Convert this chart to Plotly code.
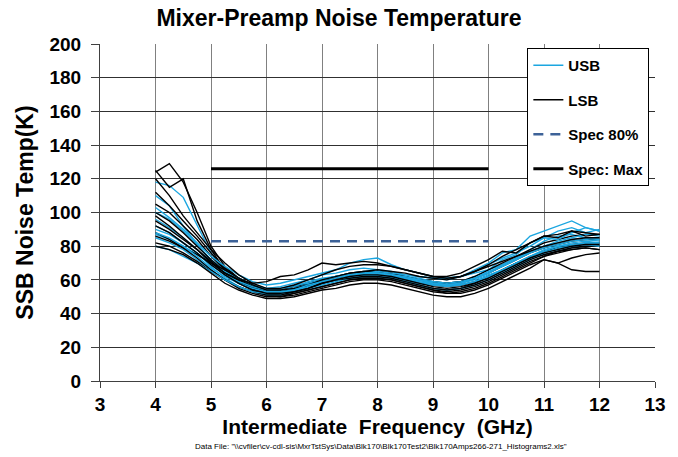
import plotly.graph_objects as go

freq_ghz = [4.00, 4.25, 4.50, 4.75, 5.00, 5.25, 5.50, 5.75, 6.00, 6.25, 6.50,
            6.75, 7.00, 7.25, 7.50, 7.75, 8.00, 8.25, 8.50, 8.75, 9.00, 9.25,
            9.50, 9.75, 10.00, 10.25, 10.50, 10.75, 11.00, 11.25, 11.50, 11.75, 12.00]

usb_1 = [118, 116, 109, 92, 76, 66, 59, 55, 53, 53, 55, 58, 60, 62, 64, 65, 65, 64, 62, 61, 59, 58, 59, 62, 66, 72, 75, 82, 85, 89, 91, 88, 90]
usb_2 = [110, 104, 92, 81, 71, 64, 58, 55, 53, 54, 55, 58, 60, 62, 63, 64, 64, 63, 61, 59, 58, 58, 59, 61, 64, 69, 73, 78, 83, 86, 87, 85, 84]
usb_3 = [100, 96, 89, 81, 72, 66, 61, 57, 55, 56, 58, 60, 63, 64, 66, 67, 66, 65, 63, 62, 61, 61, 62, 64, 66, 69, 73, 77, 80, 82, 84, 85, 84]
usb_4 = [96, 91, 85, 78, 70, 63, 58, 55, 54, 55, 56, 59, 61, 62, 63, 64, 65, 64, 63, 62, 61, 60, 62, 65, 69, 73, 76, 80, 85, 84, 88, 91, 89]
usb_5 = [90, 87, 82, 76, 68, 61, 56, 53, 51, 52, 54, 56, 58, 60, 62, 63, 63, 62, 60, 58, 57, 56, 57, 59, 62, 66, 70, 74, 78, 80, 82, 83, 82]
usb_6 = [87, 84, 80, 75, 70, 65, 61, 57, 55, 55, 57, 58, 60, 62, 63, 63, 63, 62, 61, 60, 59, 58, 59, 61, 64, 68, 72, 77, 80, 83, 85, 87, 86]
usb_7 = [85, 82, 78, 72, 66, 60, 56, 53, 51, 51, 53, 55, 57, 59, 61, 62, 62, 61, 59, 57, 55, 54, 55, 57, 60, 64, 68, 72, 76, 78, 80, 82, 81]
usb_8 = [92, 88, 82, 76, 69, 63, 59, 56, 54, 54, 55, 57, 60, 62, 63, 64, 64, 63, 61, 60, 58, 57, 58, 60, 63, 66, 70, 74, 77, 80, 81, 82, 82]
usb_9 = [80, 78, 74, 70, 65, 60, 56, 53, 52, 52, 54, 56, 59, 61, 63, 64, 64, 63, 62, 60, 58, 57, 57, 59, 62, 65, 69, 73, 76, 79, 80, 81, 80]
usb_10 = [103, 97, 90, 82, 74, 68, 63, 59, 57, 58, 60, 62, 64, 66, 70, 72, 73, 69, 66, 64, 62, 61, 62, 66, 70, 76, 78, 86, 89, 92, 95, 91, 89]
usb_11 = [88, 85, 80, 74, 67, 62, 58, 55, 53, 53, 54, 57, 59, 60, 62, 63, 63, 62, 60, 59, 57, 57, 58, 61, 65, 68, 72, 76, 79, 81, 83, 84, 83]

lsb_1 = [124, 129, 118, 100, 80, 68, 61, 56, 53, 53, 55, 57, 60, 62, 63, 64, 64, 63, 61, 60, 58, 57, 58, 61, 64, 68, 72, 76, 79, 81, 83, 84, 84]
lsb_2 = [125, 115, 120, 95, 78, 66, 59, 55, 52, 52, 54, 57, 59, 61, 62, 63, 63, 62, 60, 58, 57, 56, 57, 59, 62, 66, 70, 74, 77, 79, 81, 82, 82]
lsb_3 = [112, 104, 95, 86, 76, 67, 61, 57, 54, 54, 56, 58, 60, 62, 64, 65, 65, 64, 62, 60, 59, 58, 59, 62, 66, 70, 74, 78, 82, 84, 86, 87, 87]
lsb_4 = [105, 100, 92, 84, 74, 66, 60, 56, 53, 53, 54, 56, 58, 60, 61, 62, 62, 61, 59, 57, 55, 54, 55, 58, 62, 66, 70, 73, 75, 77, 78, 79, 78]
lsb_5 = [100, 95, 88, 80, 72, 65, 59, 55, 52, 51, 52, 54, 56, 58, 60, 61, 61, 60, 58, 56, 54, 53, 54, 56, 59, 63, 67, 71, 74, 76, 78, 79, 78]
lsb_6 = [95, 90, 84, 78, 71, 64, 58, 54, 51, 50, 51, 53, 55, 57, 59, 60, 60, 59, 57, 55, 53, 52, 53, 55, 58, 62, 66, 70, 74, 77, 79, 80, 80]
lsb_7 = [88, 84, 79, 73, 66, 60, 55, 52, 50, 50, 52, 54, 56, 58, 60, 61, 61, 60, 58, 56, 54, 52, 52, 54, 57, 61, 65, 69, 72, 70, 73, 75, 76]
lsb_8 = [82, 80, 76, 71, 65, 60, 56, 53, 51, 51, 53, 55, 58, 60, 61, 62, 62, 61, 59, 57, 55, 54, 55, 57, 60, 64, 68, 72, 75, 77, 79, 80, 80]
lsb_9 = [80, 78, 75, 70, 64, 58, 54, 51, 49, 49, 50, 52, 54, 55, 57, 58, 58, 57, 55, 53, 51, 50, 50, 52, 55, 59, 63, 67, 72, 70, 66, 65, 65]
lsb_10 = [86, 83, 79, 75, 70, 66, 61, 57, 54, 54, 55, 57, 60, 62, 64, 65, 66, 65, 64, 62, 61, 60, 62, 65, 69, 74, 78, 82, 86, 87, 89, 88, 87]
lsb_11 = [120, 110, 98, 88, 78, 70, 63, 58, 55, 55, 57, 60, 63, 66, 68, 69, 69, 68, 66, 64, 62, 61, 62, 65, 68, 71, 74, 77, 80, 82, 84, 85, 85]
lsb_12 = [92, 88, 82, 76, 69, 63, 58, 54, 52, 52, 53, 55, 58, 60, 62, 63, 63, 62, 60, 58, 56, 55, 56, 58, 61, 65, 69, 73, 76, 78, 80, 81, 81]
lsb_13 = [98, 92, 85, 78, 70, 64, 60, 58, 59, 62, 63, 66, 70, 69, 70, 71, 70, 68, 66, 64, 62, 62, 64, 68, 72, 77, 76, 82, 86, 85, 89, 86, 87]

usb_series = [usb_1, usb_2, usb_3, usb_4, usb_5, usb_6, usb_7, usb_8, usb_9, usb_10, usb_11]
lsb_series = [lsb_1, lsb_2, lsb_3, lsb_4, lsb_5, lsb_6, lsb_7, lsb_8, lsb_9, lsb_10, lsb_11, lsb_12, lsb_13]

spec_x = [5, 10]
spec_80 = 83
spec_max = 126

x_ticks = [3, 4, 5, 6, 7, 8, 9, 10, 11, 12, 13]
y_ticks = [0, 20, 40, 60, 80, 100, 120, 140, 160, 180, 200]

FONT = "Liberation Sans, Arial, sans-serif"
BLUE = "#1BA6E0"
DASH_BLUE = "#3D6298"

fig = go.Figure()

n = max(len(usb_series), len(lsb_series))
for i in range(n):
    if i < len(usb_series):
        fig.add_trace(go.Scatter(
            x=freq_ghz, y=usb_series[i], mode="lines",
            line=dict(color=BLUE, width=1.4),
            name="USB", legendgroup="usb", showlegend=(i == 0), legendrank=1,
        ))
    if i < len(lsb_series):
        fig.add_trace(go.Scatter(
            x=freq_ghz, y=lsb_series[i], mode="lines",
            line=dict(color="#000000", width=1.4),
            name="LSB", legendgroup="lsb", showlegend=(i == 0), legendrank=2,
        ))

fig.add_trace(go.Scatter(
    x=spec_x, y=[spec_80] * len(spec_x), mode="lines",
    line=dict(color=DASH_BLUE, width=2.5, dash="10px,7px"),
    name="Spec 80%", legendgroup="s80", legendrank=3,
))
fig.add_trace(go.Scatter(
    x=spec_x, y=[spec_max] * len(spec_x), mode="lines",
    line=dict(color="#000000", width=3),
    name="Spec: Max", legendgroup="smax", legendrank=4,
))

fig.update_layout(
    width=678, height=457,
    margin=dict(l=100, r=13, t=44, b=76),
    paper_bgcolor="white", plot_bgcolor="white",
    font=dict(family=FONT, color="black"),
    title=dict(text="Mixer-Preamp Noise Temperature", x=0.5, xanchor="center",
               y=1 - 18 / 457, yanchor="middle",
               font=dict(family=FONT, size=23, weight="bold", color="black")),
    showlegend=True,
    legend=dict(x=0.77, y=0.988, xanchor="left", yanchor="top",
                bgcolor="white", bordercolor="black", borderwidth=1,
                font=dict(family=FONT, size=15, weight="bold", color="black"),
                tracegroupgap=12, traceorder="grouped"),
    xaxis=dict(range=[3, 13], tickvals=x_ticks, ticktext=[str(v) for v in x_ticks],
               showgrid=True, gridcolor="#808080", gridwidth=1,
               showline=True, linecolor="#404040", linewidth=1,
               ticks="outside", ticklen=6, tickcolor="#404040",
               tickfont=dict(family=FONT, size=19, weight="bold", color="black"),
               zeroline=False,
               title=dict(text="Intermediate\u00a0 Frequency\u00a0 (GHz)", standoff=2,
                          font=dict(family=FONT, size=21, weight="bold", color="black"))),
    yaxis=dict(range=[0, 200], tickvals=y_ticks, ticktext=[str(v) for v in y_ticks],
               showgrid=True, gridcolor="#303030", gridwidth=1,
               showline=True, linecolor="#404040", linewidth=1,
               ticks="outside", ticklen=8, tickcolor="#404040",
               ticklabelstandoff=6,
               tickfont=dict(family=FONT, size=19, weight="bold", color="black"),
               zeroline=False,
               title=dict(text="SSB Noise Temp(K)", standoff=9,
                          font=dict(family=FONT, size=23, weight="bold", color="black"))),
    annotations=[dict(
        text='Data File: "\\\\cvfiler\\cv-cdl-sis\\MxrTstSys\\Data\\Blk170\\Blk170Test2\\Blk170Amps266-271_Histograms2.xls"',
        xref="paper", yref="paper", x=(386 - 100) / 565, y=-(447 - 381) / 337,
        xanchor="center", yanchor="middle", showarrow=False,
        font=dict(family=FONT, size=8, color="black"),
    )],
)

fig.write_html("out.html")
